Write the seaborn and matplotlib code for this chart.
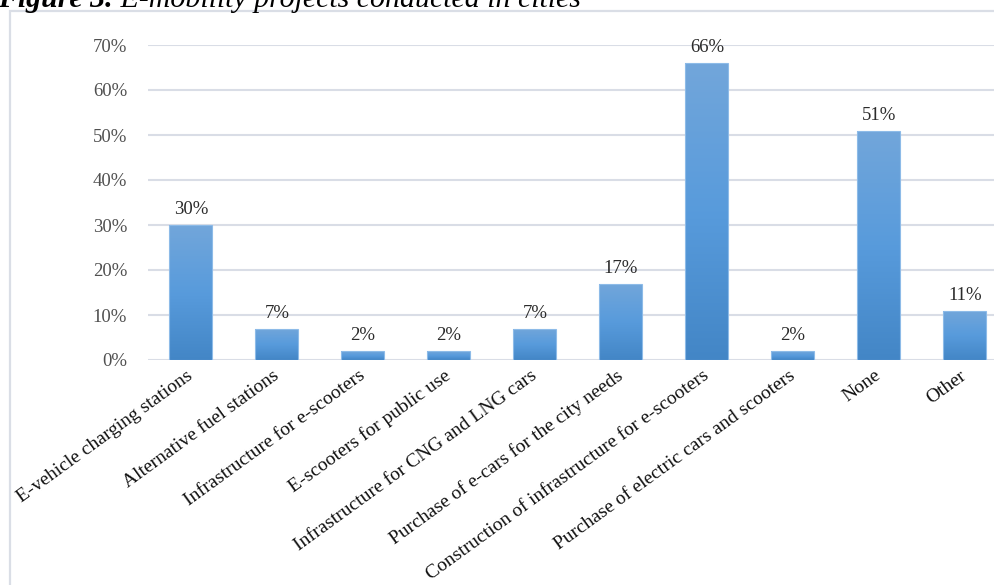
import numpy as np
import matplotlib
matplotlib.use("Agg")
import matplotlib.pyplot as plt
from matplotlib.colors import LinearSegmentedColormap
from matplotlib.patches import Rectangle
import pandas as pd
import seaborn as sns

# Survey results: share of cities that ran each kind of e-mobility project
categories = [
    "E-vehicle charging stations",
    "Alternative fuel stations",
    "Infrastructure for e-scooters",
    "E-scooters for public use",
    "Infrastructure for CNG and LNG cars",
    "Purchase of e-cars for the city needs",
    "Construction of infrastructure for e-scooters",
    "Purchase of electric cars and scooters",
    "None",
    "Other",
]
shares = [30, 7, 2, 2, 7, 17, 66, 2, 51, 11]
y_ticks = [0, 10, 20, 30, 40, 50, 60, 70]
title_lead = "Figure 3."
title_rest = " E-mobility projects conducted in cities"

W, H = 995, 585
sns.set_theme(style="white")
plt.rcParams["font.family"] = ["Liberation Serif", "DejaVu Serif"]

fig = plt.figure(figsize=(W / 100, H / 100), dpi=100)
fig.patch.set_facecolor("white")
ax = fig.add_axes([148 / W, 225 / H, 860 / W, 315 / H])

df = pd.DataFrame({"project": categories, "share": shares})
sns.barplot(data=df, x="project", y="share", ax=ax, width=0.5,
            color="#5b9bd5", saturation=1, edgecolor="#8dbbe8",
            linewidth=0.8, zorder=3)

ax.set_ylim(0, 70)
ax.set_yticks(y_ticks)
ax.set_yticklabels([f"{t}%" for t in y_ticks], color="#505050", fontsize=13.5)
ax.tick_params(axis="y", length=0, pad=15)
ax.tick_params(axis="x", length=0, pad=10)
ax.set_xlabel("")
ax.set_ylabel("")
for s in ax.spines.values():
    s.set_visible(False)
ax.set_axisbelow(True)
ax.yaxis.grid(True, color="#d9dde6", linewidth=1.5)

# vertical gradient fill inside each bar, lighter at the top
grad_cmap = LinearSegmentedColormap.from_list(
    "bar_grad", ["#4386c6", "#589bdc", "#72a6da"])
grad = np.linspace(0, 1, 256).reshape(-1, 1)
xlim, ylim = ax.get_xlim(), ax.get_ylim()
for patch, v in zip(ax.patches, shares):
    x0 = patch.get_x()
    w = patch.get_width()
    h = patch.get_height()
    im = ax.imshow(grad, cmap=grad_cmap, origin="lower", aspect="auto",
                   extent=(x0, x0 + w, 0, h), zorder=3.1,
                   interpolation="bilinear")
    im.set_clip_path(patch)
    patch.set_facecolor("none")
    patch.set_zorder(3.2)
    ax.annotate(f"{v}%", (x0 + w / 2, h), xytext=(0, 5),
                textcoords="offset points", ha="center", va="bottom",
                fontsize=13.5, color="#2b2b2b", zorder=4)
ax.set_xlim(xlim)
ax.set_ylim(ylim)

ax.set_xticks(range(len(categories)))
ax.set_xticklabels(categories, rotation=36, ha="right", va="center",
                   rotation_mode="anchor", fontsize=14, color="#111111")

# light frame around the chart area
fig.add_artist(Rectangle((10 / W, -0.05), 1.0, (H - 11) / H + 0.05,
                         transform=fig.transFigure, fill=False,
                         edgecolor="#dadee6", linewidth=1.6))

# caption above the frame
base_y = 1 - 7 / H
t1 = fig.text(-2 / W, base_y, title_lead, fontsize=21.5,
              fontweight="bold", fontstyle="italic", va="baseline",
              ha="left", color="black")
renderer = fig.canvas.get_renderer()
bb = t1.get_window_extent(renderer)
fig.text(bb.x1 / W, base_y, title_rest, fontsize=21.5,
         fontstyle="italic", va="baseline", ha="left", color="black")

fig.savefig("out.png", dpi=100)
